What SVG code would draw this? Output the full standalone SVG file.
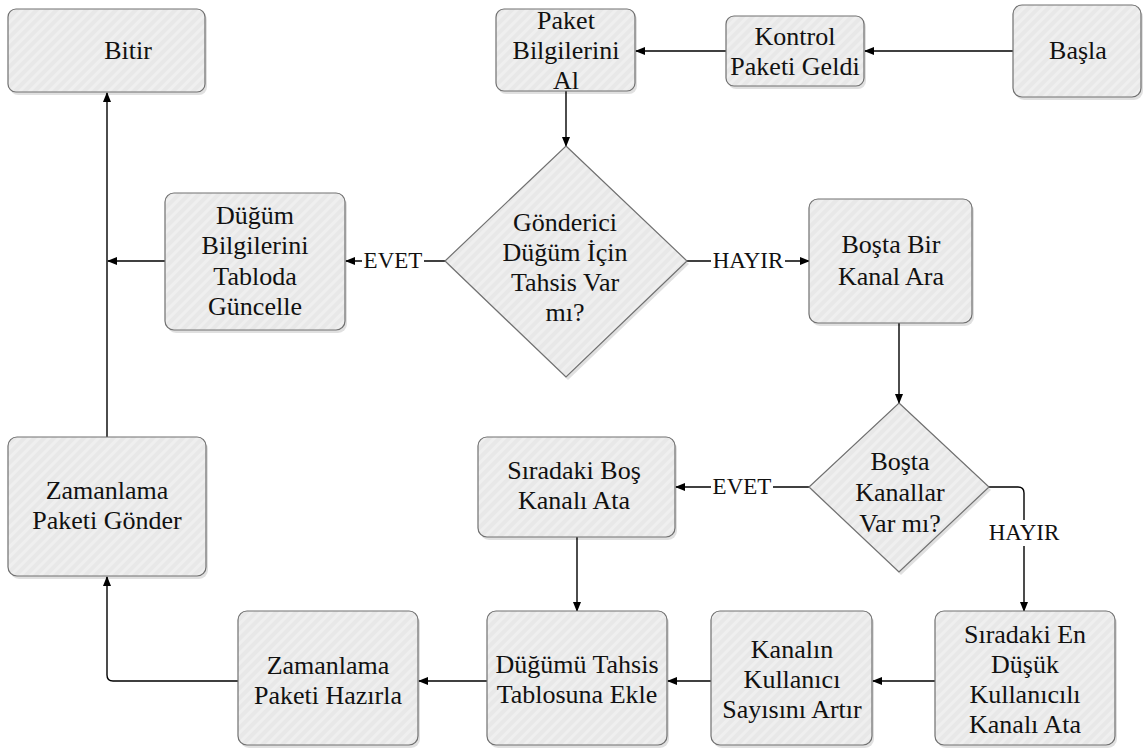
<svg xmlns="http://www.w3.org/2000/svg" width="1146" height="751" viewBox="0 0 1146 751">
  <defs>
    <pattern id="hatch" width="7" height="7" patternUnits="userSpaceOnUse" patternTransform="rotate(45)">
      <rect width="7" height="7" fill="#e8e8e8"/>
      <rect width="3" height="7" fill="#efefef"/>
    </pattern>
    <marker id="arrow" markerWidth="10" markerHeight="8" refX="9" refY="4" orient="auto" markerUnits="userSpaceOnUse">
      <path d="M0,0 L10,4 L0,8 Z" fill="#000"/>
    </marker>
  </defs>
  <style>
    .box { fill: url(#hatch); stroke: #707070; stroke-width: 1.2; }
    .sh { fill: #000; fill-opacity: 0.12; }
    .c { fill: none; stroke: #000; stroke-width: 1.4; }
    .bg { fill: #fff; }
    .lbl { font-family: "Liberation Serif", serif; font-size: 23px; fill: #111; text-anchor: middle; }
    .nt { font-family: "Liberation Serif", serif; font-size: 26px; fill: #111; text-anchor: middle; }
  </style>
  <rect width="1146" height="751" fill="#fff"/>

  <!-- connectors -->
  <g id="connectors">
    <path class="c" d="M1013,51 H865" marker-end="url(#arrow)"/>
    <path class="c" d="M726,51 H636" marker-end="url(#arrow)"/>
    <path class="c" d="M566,91 V146" marker-end="url(#arrow)"/>
    <path class="c" d="M445,261 H346" marker-end="url(#arrow)"/>
    <path class="c" d="M687,261 H809" marker-end="url(#arrow)"/>
    <path class="c" d="M165,261 H108" marker-end="url(#arrow)"/>
    <path class="c" d="M107,437 V93" marker-end="url(#arrow)"/>
    <path class="c" d="M899,323 V403" marker-end="url(#arrow)"/>
    <path class="c" d="M809,487 H676" marker-end="url(#arrow)"/>
    <path class="c" d="M989,487 H1018 Q1024,487 1024,493 V611" marker-end="url(#arrow)"/>
    <path class="c" d="M577,537 V611" marker-end="url(#arrow)"/>
    <path class="c" d="M935,681 H873" marker-end="url(#arrow)"/>
    <path class="c" d="M711,681 H668" marker-end="url(#arrow)"/>
    <path class="c" d="M487,681 H419" marker-end="url(#arrow)"/>
    <path class="c" d="M238,681 H113 Q107,681 107,675 V577" marker-end="url(#arrow)"/>
    <!-- branch labels -->
    <rect class="bg" x="362" y="249" width="62" height="24"/>
    <text class="lbl" x="393" y="268">EVET</text>
    <rect class="bg" x="711" y="249" width="74" height="24"/>
    <text class="lbl" x="748" y="268">HAYIR</text>
    <rect class="bg" x="711" y="475" width="62" height="24"/>
    <text class="lbl" x="742" y="494">EVET</text>
    <rect class="bg" x="987" y="520" width="74" height="26"/>
    <text class="lbl" x="1024" y="540">HAYIR</text>
  </g>

  <!-- nodes: offset shadow, hatched body, caption -->
  <g id="nodes">
    <g id="basla">
      <rect class="sh" x="1015" y="8" width="128" height="92" rx="9"/>
      <rect class="box" x="1013" y="5" width="128" height="92" rx="9"/>
      <text class="nt" x="1078" y="59">Başla</text>
    </g>
    <g id="kontrol-paketi-geldi">
      <rect class="sh" x="728" y="19" width="138" height="70" rx="8"/>
      <rect class="box" x="726" y="16" width="138" height="70" rx="8"/>
      <text class="nt" x="795" y="45">Kontrol</text>
      <text class="nt" x="795" y="75">Paketi Geldi</text>
    </g>
    <g id="paket-bilgilerini-al">
      <rect class="sh" x="498" y="12" width="139" height="82" rx="8"/>
      <rect class="box" x="496" y="9" width="139" height="82" rx="8"/>
      <text class="nt" x="566" y="29">Paket</text>
      <text class="nt" x="566" y="59">Bilgilerini</text>
      <text class="nt" x="566" y="89">Al</text>
    </g>
    <g id="bitir">
      <rect class="sh" x="10" y="12" width="197" height="83" rx="8"/>
      <rect class="box" x="8" y="9" width="197" height="83" rx="8"/>
      <text class="nt" x="128" y="59">Bitir</text>
    </g>
    <g id="karar-tahsis">
      <polygon class="sh" points="568,149 689,264 568,380 447,264"/>
      <polygon class="box" points="566,146 687,261 566,377 445,261"/>
      <text class="nt" x="565" y="231">Gönderici</text>
      <text class="nt" x="565" y="261">Düğüm İçin</text>
      <text class="nt" x="565" y="291">Tahsis Var</text>
      <text class="nt" x="565" y="321">mı?</text>
    </g>
    <g id="dugum-bilgilerini-guncelle">
      <rect class="sh" x="167" y="196" width="180" height="137" rx="9"/>
      <rect class="box" x="165" y="193" width="180" height="137" rx="9"/>
      <text class="nt" x="255" y="224">Düğüm</text>
      <text class="nt" x="255" y="254">Bilgilerini</text>
      <text class="nt" x="255" y="285">Tabloda</text>
      <text class="nt" x="255" y="315">Güncelle</text>
    </g>
    <g id="bosta-kanal-ara">
      <rect class="sh" x="811" y="202" width="163" height="124" rx="9"/>
      <rect class="box" x="809" y="199" width="163" height="124" rx="9"/>
      <text class="nt" x="891" y="253">Boşta Bir</text>
      <text class="nt" x="891" y="285">Kanal Ara</text>
    </g>
    <g id="karar-bos-kanal">
      <polygon class="sh" points="901,406 991,490 901,575 811,490"/>
      <polygon class="box" points="899,403 989,487 899,572 809,487"/>
      <text class="nt" x="900" y="470">Boşta</text>
      <text class="nt" x="900" y="501">Kanallar</text>
      <text class="nt" x="900" y="532">Var mı?</text>
    </g>
    <g id="siradaki-bos-kanal">
      <rect class="sh" x="480" y="440" width="197" height="100" rx="9"/>
      <rect class="box" x="478" y="437" width="197" height="100" rx="9"/>
      <text class="nt" x="574" y="479">Sıradaki Boş</text>
      <text class="nt" x="574" y="509">Kanalı Ata</text>
    </g>
    <g id="zamanlama-gonder">
      <rect class="sh" x="10" y="440" width="198" height="139" rx="9"/>
      <rect class="box" x="8" y="437" width="198" height="139" rx="9"/>
      <text class="nt" x="107" y="499">Zamanlama</text>
      <text class="nt" x="107" y="529">Paketi Gönder</text>
    </g>
    <g id="en-dusuk-kanal">
      <rect class="sh" x="937" y="614" width="180" height="134" rx="9"/>
      <rect class="box" x="935" y="611" width="180" height="134" rx="9"/>
      <text class="nt" x="1025" y="643">Sıradaki En</text>
      <text class="nt" x="1025" y="673">Düşük</text>
      <text class="nt" x="1025" y="703">Kullanıcılı</text>
      <text class="nt" x="1025" y="733">Kanalı Ata</text>
    </g>
    <g id="kullanici-sayisi-artir">
      <rect class="sh" x="713" y="614" width="161" height="134" rx="9"/>
      <rect class="box" x="711" y="611" width="161" height="134" rx="9"/>
      <text class="nt" x="792" y="658">Kanalın</text>
      <text class="nt" x="792" y="688">Kullanıcı</text>
      <text class="nt" x="792" y="718">Sayısını Artır</text>
    </g>
    <g id="tahsis-tablosuna-ekle">
      <rect class="sh" x="489" y="614" width="180" height="134" rx="9"/>
      <rect class="box" x="487" y="611" width="180" height="134" rx="9"/>
      <text class="nt" x="577" y="673">Düğümü Tahsis</text>
      <text class="nt" x="577" y="703">Tablosuna Ekle</text>
    </g>
    <g id="zamanlama-hazirla">
      <rect class="sh" x="240" y="614" width="180" height="134" rx="9"/>
      <rect class="box" x="238" y="611" width="180" height="134" rx="9"/>
      <text class="nt" x="328" y="674">Zamanlama</text>
      <text class="nt" x="328" y="704">Paketi Hazırla</text>
    </g>
  </g>
</svg>
